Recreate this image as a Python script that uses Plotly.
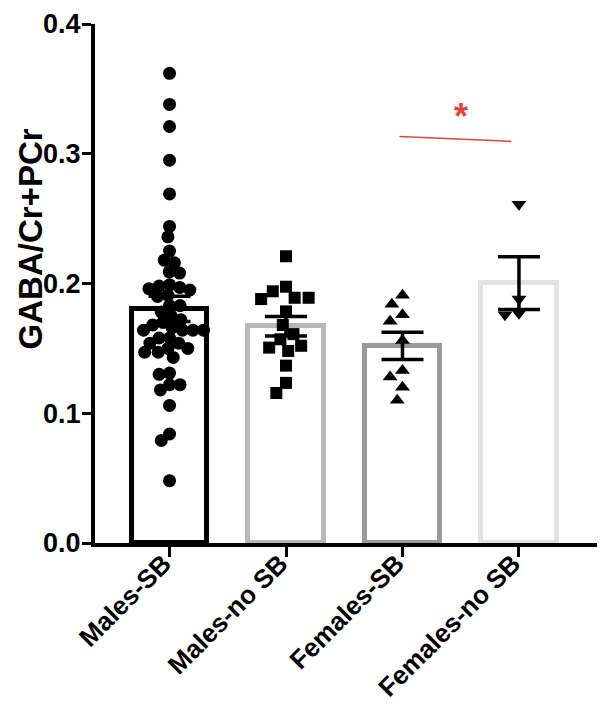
import plotly.graph_objects as go

# ---------------- data ----------------
groups = ["Males-SB", "Males-no SB", "Females-SB", "Females-no SB"]

males_sb = [0.362, 0.338, 0.321, 0.295, 0.269, 0.244, 0.236, 0.225, 0.216, 0.218,
            0.209, 0.208, 0.196, 0.199, 0.198, 0.197, 0.195, 0.191, 0.190, 0.183,
            0.183, 0.178, 0.175, 0.172, 0.170, 0.168, 0.166, 0.164, 0.164, 0.164,
            0.164, 0.158, 0.158, 0.154, 0.154, 0.150, 0.150, 0.147, 0.147, 0.143,
            0.131, 0.130, 0.122, 0.122, 0.118, 0.106, 0.084, 0.079, 0.048]
males_nosb = [0.221, 0.1975, 0.189, 0.188, 0.189, 0.194, 0.1785, 0.168, 0.161,
              0.157, 0.1506, 0.148, 0.152, 0.1367, 0.1234, 0.1156]
females_sb = [0.191, 0.184, 0.176, 0.171, 0.156, 0.133, 0.128, 0.120, 0.110]
females_nosb = [0.261, 0.188, 0.176, 0.177]

group_means = [0.1805, 0.167, 0.152, 0.2003]
group_sems = [0.0097, 0.0075, 0.0105, 0.0203]

y_ticks = [0.0, 0.1, 0.2, 0.3, 0.4]
y_title = "GABA/Cr+PCr"
sig_pair = (2, 3)   # Females-SB vs Females-no SB
sig_label = "*"

# ---------------- layout geometry ----------------
# the page body adds an 8px margin around the figure
W, H = 597, 700
M = dict(l=87, r=8, t=16, b=165)
xr = [-0.64, 3.67]
yr = [0.0, 0.4]
plot_w = W - M["l"] - M["r"]
plot_h = H - M["t"] - M["b"]
xscale = plot_w / (xr[1] - xr[0])   # px per category
yscale = plot_h / (yr[1] - yr[0])   # px per unit


def swarm(vals, d):
    """Deterministic beeswarm offsets (in category units)."""
    order = sorted(range(len(vals)), key=lambda i: -vals[i])
    placed = []
    offs = [0.0] * len(vals)
    for i in order:
        y = vals[i] * yscale
        forb = []
        for px, py in placed:
            dy = abs(py - y)
            if dy < d:
                w = (d * d - dy * dy) ** 0.5
                forb.append((px - w, px + w))
        cands = [0.0] + [a for a, b in forb] + [b for a, b in forb]
        cands.sort(key=lambda c: (abs(c), c))
        x = 0.0
        for c in cands:
            if all(not (a + 1e-6 < c < b - 1e-6) for a, b in forb):
                x = c
                break
        placed.append((x, y))
        offs[i] = x / xscale
    return offs


series = [males_sb, males_nosb, females_sb, females_nosb]
symbols = ["circle", "square", "triangle-up", "triangle-down"]
msizes = [13, 12, 13, 13]
spacing = [10.5, 14, 14, 14]
edge_colors = ["#000000", "#b8b8b8", "#9a9a9a", "#e2e2e2"]

fig = go.Figure()

# bars
fig.add_trace(go.Bar(
    x=list(range(len(groups))), y=group_means, width=0.65,
    marker=dict(color="white", line=dict(color=edge_colors, width=5)),
    showlegend=False, hoverinfo="skip",
))

# points
for gi, vals in enumerate(series):
    offs = swarm(vals, spacing[gi])
    fig.add_trace(go.Scatter(
        x=[gi + o for o in offs], y=vals, mode="markers",
        marker=dict(symbol=symbols[gi], size=msizes[gi], color="black",
                    line=dict(width=0)),
        showlegend=False, cliponaxis=False, hoverinfo="skip",
    ))

# mean +/- SEM
fig.add_trace(go.Scatter(
    x=list(range(len(groups))), y=group_means, mode="markers",
    marker=dict(size=1, color="rgba(0,0,0,0)"),
    error_y=dict(type="data", array=group_sems, color="black",
                 thickness=3.5, width=21),
    showlegend=False, hoverinfo="skip",
))

# significance line + asterisk
top = max(series[sig_pair[1]]) + 0.05
fig.add_trace(go.Scatter(
    x=[sig_pair[0] - 0.026, sig_pair[1] - 0.064], y=[top + 0.0023, top - 0.0015],
    mode="lines", line=dict(color="#e0453c", width=1.5),
    showlegend=False, hoverinfo="skip", cliponaxis=False,
))
fig.add_annotation(
    x=(sig_pair[0] + sig_pair[1]) / 2, y=top, yanchor="bottom", yshift=0,
    text=sig_label, showarrow=False,
    font=dict(color="#e0453c", size=36, family="Liberation Sans", weight="bold"),
)

font_fam = "Liberation Sans, Arial, sans-serif"

# y-axis title placed as text
fig.add_annotation(
    xref="paper", yref="paper", x=-65 / plot_w, y=0.585,
    xanchor="center", yanchor="middle", textangle=-90, showarrow=False,
    text=y_title,
    font=dict(family=font_fam, size=33, color="black", weight="bold"),
)

fig.update_layout(
    width=W, height=H, margin=M,
    paper_bgcolor="white", plot_bgcolor="white",
    bargap=0,
    xaxis=dict(
        range=xr, tickmode="array", tickvals=list(range(len(groups))),
        ticktext=groups, tickangle=-45, automargin=False,
        showline=True, linecolor="black", linewidth=4,
        ticks="outside", ticklen=10, tickwidth=3, tickcolor="black",
        showgrid=False, zeroline=False,
        ticklabelstandoff=-19, ticklabelshift=-6, ticklabeloverflow="allow",
        tickfont=dict(family=font_fam, size=26, color="black", weight="bold"),
    ),
    yaxis=dict(
        range=yr, tickmode="array", tickvals=y_ticks, automargin=False,
        ticktext=[f"{v:.1f}" for v in y_ticks],
        showline=True, linecolor="black", linewidth=4,
        ticks="outside", ticklen=9, tickwidth=3, tickcolor="black",
        showgrid=False, zeroline=False,
        ticklabelstandoff=-4, ticklabeloverflow="allow",
        tickfont=dict(family=font_fam, size=27, color="black", weight="bold"),
    ),
)

fig.write_html("out.html")
